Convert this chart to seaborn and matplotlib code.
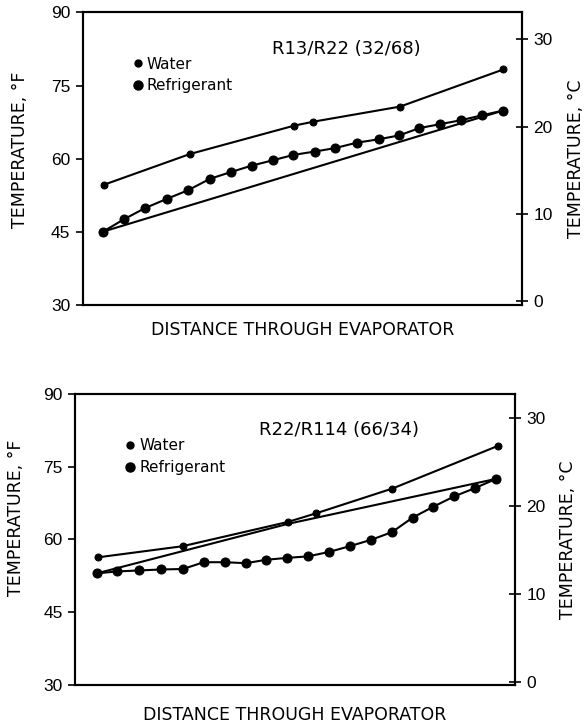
import matplotlib
matplotlib.use("Agg")
import matplotlib.pyplot as plt
import seaborn as sns
import pandas as pd
from matplotlib.lines import Line2D

# --- data (distance in % of evaporator length, temps in F)
top_water_x = [4.8, 24.4, 48.1, 52.4, 72.2, 95.7]
top_water_f = [54.7, 61.0, 66.8, 67.6, 70.7, 78.3]
top_ref_x = [4.6, 9.3, 14.1, 19.1, 24.0, 28.9, 33.7, 38.4, 43.2, 47.9, 52.8,
             57.4, 62.3, 67.3, 72.0, 76.6, 81.3, 86.0, 90.8, 95.7]
top_ref_f = [45.1, 47.6, 49.9, 51.8, 53.6, 55.9, 57.3, 58.6, 59.7, 60.8, 61.5,
             62.2, 63.3, 64.0, 64.8, 66.3, 67.1, 67.9, 68.9, 69.9]
top_lin_x = [4.6, 95.7]
top_lin_f = [45.1, 69.9]

bot_water_x = [5.1, 24.4, 48.3, 54.8, 72.1, 96.1]
bot_water_f = [56.3, 58.6, 63.6, 65.4, 70.5, 79.3]
bot_ref_x = [4.9, 9.6, 14.5, 19.5, 24.5, 29.2, 34.0, 38.8, 43.4, 48.2, 52.9,
             57.6, 62.4, 67.2, 72.0, 76.7, 81.3, 86.2, 90.9, 95.7]
bot_ref_f = [53.0, 53.4, 53.6, 53.8, 53.9, 55.3, 55.3, 55.1, 55.8, 56.2, 56.5,
             57.4, 58.6, 59.9, 61.5, 64.5, 66.7, 68.9, 70.6, 72.5]
bot_lin_x = [4.9, 48.3, 95.7]
bot_lin_f = [53.0, 63.2, 72.5]

panels = [
    ("R13/R22 (32/68)", top_water_x, top_water_f, top_ref_x, top_ref_f, top_lin_x, top_lin_f),
    ("R22/R114 (66/34)", bot_water_x, bot_water_f, bot_ref_x, bot_ref_f, bot_lin_x, bot_lin_f),
]

sns.set_style("ticks")
plt.rcParams["font.family"] = ["Liberation Sans", "DejaVu Sans"]
plt.rcParams.update({"text.color": "black", "axes.labelcolor": "black",
                     "xtick.color": "black", "ytick.color": "black",
                     "axes.edgecolor": "black"})
lab_font = ["DejaVu Sans"]

fig = plt.figure(figsize=(5.88, 7.27), dpi=100)
rects = [[0.141, 0.580, 0.747, 0.403], [0.128, 0.058, 0.748, 0.400]]
xpads = [11, 15]
ylab_xy = [(-0.123, 0.53), (-0.114, 0.575)]
ylims_c = [(-0.46, 33.1), (-0.35, 32.7)]

for i, (title, wx, wf, rx, rf, lx, lf) in enumerate(panels):
    ax = fig.add_axes(rects[i])
    df_w = pd.DataFrame({"x": wx, "t": wf})
    df_r = pd.DataFrame({"x": rx, "t": rf})
    df_l = pd.DataFrame({"x": lx, "t": lf})
    sns.lineplot(data=df_w, x="x", y="t", ax=ax, color="black", lw=1.5,
                 marker="o", markersize=5, markeredgecolor="black", sort=False)
    sns.lineplot(data=df_r, x="x", y="t", ax=ax, color="black", lw=1.5,
                 marker="o", markersize=6.5, markeredgecolor="black", sort=False)
    sns.lineplot(data=df_l, x="x", y="t", ax=ax, color="black", lw=1.5, sort=False)

    ax.set_xlim(0, 100)
    ax.set_ylim(30, 90)
    ax.set_yticks([30, 45, 60, 75, 90])
    ax.set_xticks([])
    ax.tick_params(axis="y", direction="out", length=5, width=1.2, labelsize=12.5, pad=4)
    for s in ax.spines.values():
        s.set_linewidth(1.5)
    ax.set_xlabel("DISTANCE THROUGH EVAPORATOR", fontsize=12.5, family=lab_font,
                  labelpad=xpads[i])
    ax.set_ylabel("TEMPERATURE, °F", fontsize=12.5, family=lab_font)
    ax.yaxis.set_label_coords(*ylab_xy[i])

    # right axis in Celsius, limits
    ax2 = ax.twinx()
    ax2.set_ylim(*ylims_c[i])
    ax2.set_yticks([0, 10, 20, 30])
    ax2.tick_params(axis="y", direction="inout", length=8, width=1.2, labelsize=12.5, pad=4)
    for s in ax2.spines.values():
        s.set_linewidth(1.5)
    ax2.set_ylabel("TEMPERATURE, °C", fontsize=12.5, family=lab_font, labelpad=10)

    ax.text(0.60, 0.875, title, transform=ax.transAxes, ha="center", va="center",
            fontsize=13, family=lab_font)
    handles = [
        Line2D([], [], ls="none", marker="o", ms=5, color="black", label="Water"),
        Line2D([], [], ls="none", marker="o", ms=6.5, color="black", label="Refrigerant"),
    ]
    ax.legend(handles=handles, loc="upper left", bbox_to_anchor=(0.09, 0.875),
              frameon=False, handletextpad=0.1, borderpad=0,
              labelspacing=0.45, handlelength=1,
              prop={"family": lab_font, "size": 11})

fig.savefig("out.png", dpi=100)
